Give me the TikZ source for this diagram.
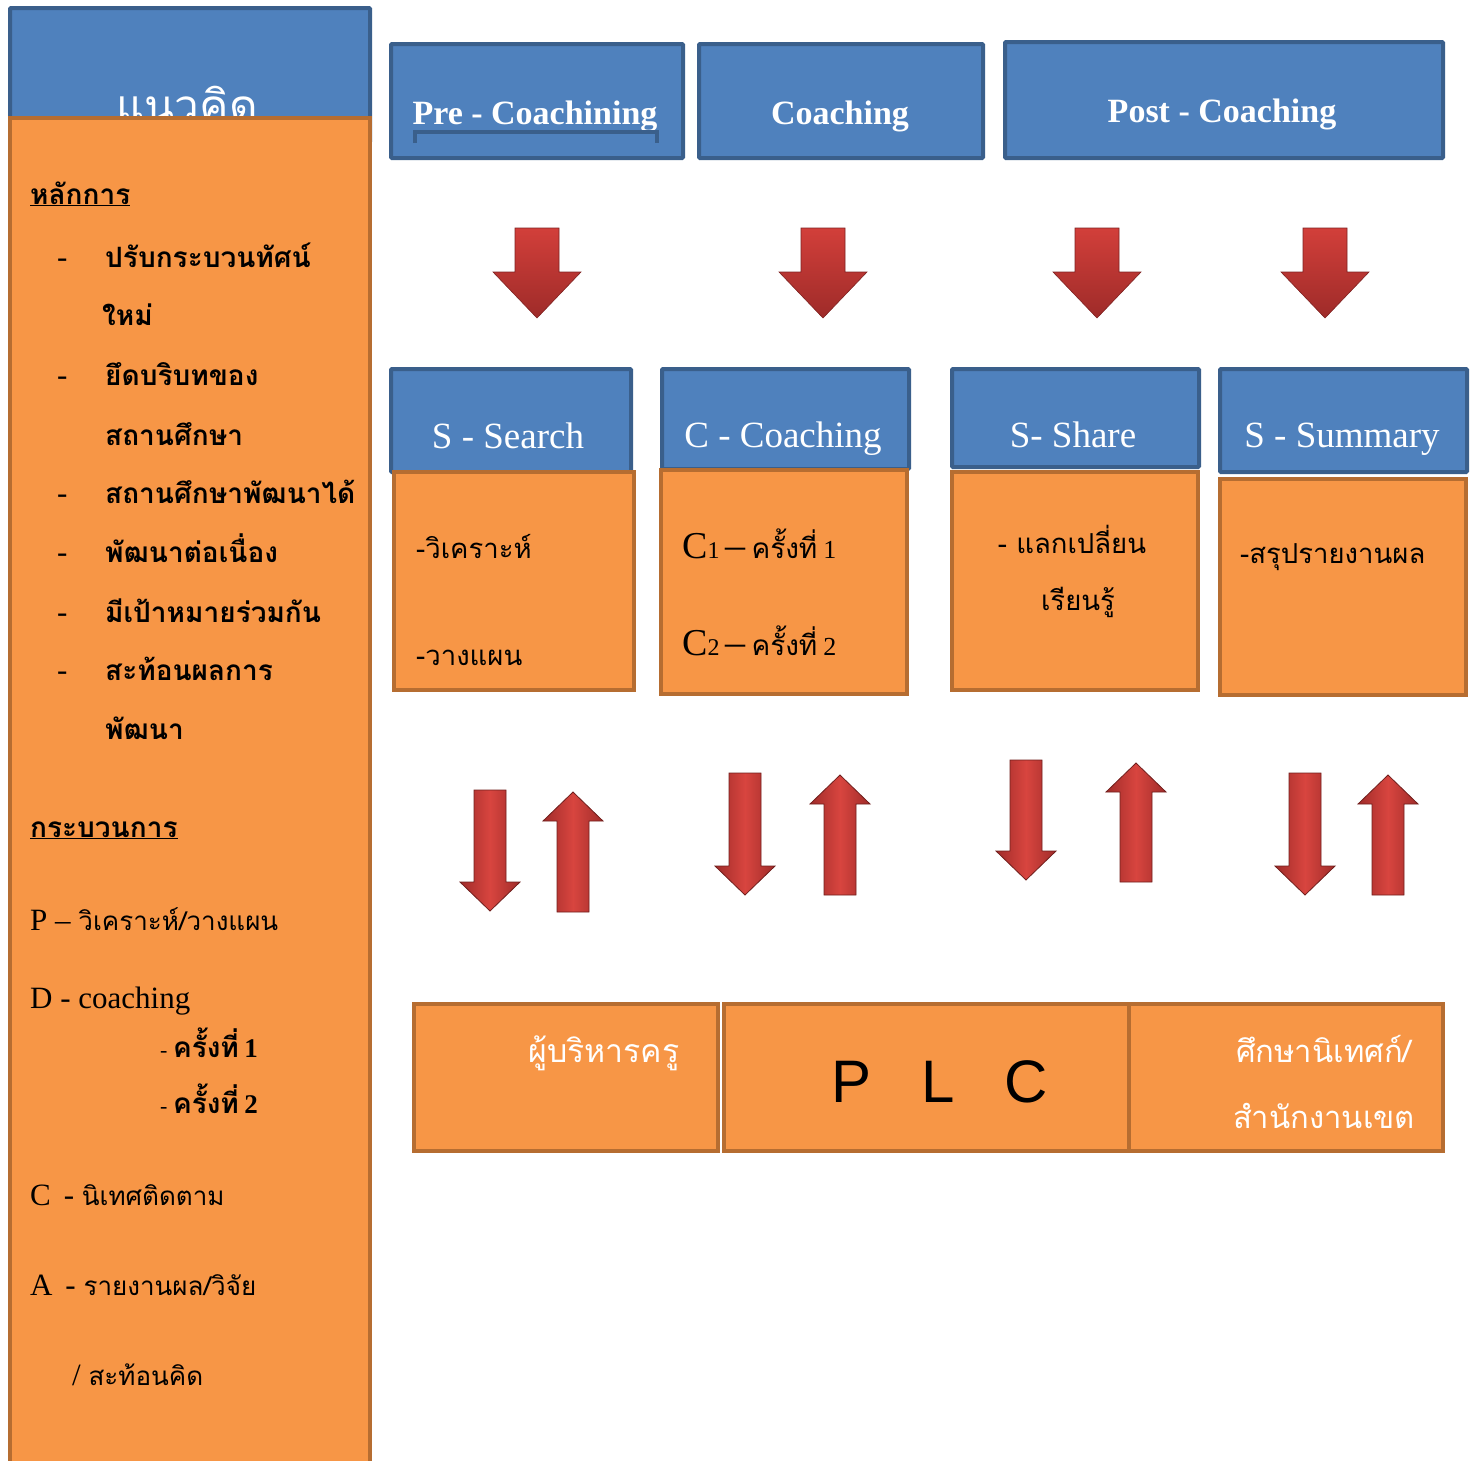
\documentclass[tikz,border=0pt]{standalone}
\usepackage{fontspec}
\setmainfont{Liberation Serif}
\newfontfamily\thaifont[Script=Thai]{Loma}
\newfontfamily\plcfont{Liberation Sans}
\definecolor{hdfill}{HTML}{4F81BD}
\definecolor{hdline}{HTML}{3A5F8B}
\definecolor{orfill}{HTML}{F79646}
\definecolor{orline}{HTML}{B66D31}
\definecolor{arrtop}{HTML}{D23F3A}
\definecolor{arrbot}{HTML}{9E2B29}
\definecolor{arrlight}{HTML}{D8453F}
\definecolor{arrdark}{HTML}{A02C2A}
\begin{document}
\begin{tikzpicture}[x=1pt,y=-1pt,
    hdbox/.style={draw=hdline,fill=hdfill,line width=4pt,rounded corners=1pt,inner sep=0pt,anchor=north west},
    orbox/.style={draw=orline,fill=orfill,line width=4pt,inner sep=0pt,anchor=north west},
    lt/.style={anchor=base west,inner sep=0pt},
    ct/.style={anchor=base,inner sep=0pt},
    thb/.style={font=\thaifont\bfseries\fontsize{28}{34}\selectfont},
    thr/.style={font=\thaifont\fontsize{27.5}{34}\selectfont},
    lat/.style={font=\fontsize{31}{36}\selectfont},
    toptxt/.style={ct,text=white,font=\bfseries\fontsize{34}{40}\selectfont},
    steptxt/.style={ct,text=white,font=\fontsize{37}{42}\selectfont},
    bigarrow/.style={top color=arrtop,bottom color=arrbot,draw=arrbot!80!black,line width=0.6pt},
    smallarrow/.style={left color=arrdark,right color=arrdark,middle color=arrlight,draw=arrdark!70!black,line width=0.8pt}]
  \useasboundingbox (0,0) rectangle (1472,1460);

  % left column
  \node[hdbox,minimum width=360pt,minimum height=134pt] (concepthd) at (8,6) {};
  \node[ct,text=white,font=\thaifont\fontsize{44}{50}\selectfont] (concept) at (187,121) {แนวคิด};
  \node[orbox,minimum width=360pt,minimum height=1360pt] (conceptbody) at (8,116) {};

  \draw
    (30,204) node[lt,thb] (principle) {\underline{หลักการ}}
    (57,267) node[lt,lat] (d1) {-}
    (105,267) node[lt,thb] (p1) {ปรับกระบวนทัศน์}
    (102,325) node[lt,thb] (p1b) {ใหม่}
    (57,385) node[lt,lat] (d2) {-}
    (105,385) node[lt,thb] (p2) {ยึดบริบทของ}
    (105,445) node[lt,thb] (p2b) {สถานศึกษา}
    (57,503) node[lt,lat] (d3) {-}
    (105,503) node[lt,thb] (p3) {สถานศึกษาพัฒนาได้}
    (57,562) node[lt,lat] (d4) {-}
    (105,562) node[lt,thb] (p4) {พัฒนาต่อเนื่อง}
    (57,622) node[lt,lat] (d5) {-}
    (105,622) node[lt,thb] (p5) {มีเป้าหมายร่วมกัน}
    (57,680) node[lt,lat] (d6) {-}
    (105,680) node[lt,thb] (p6) {สะท้อนผลการ}
    (105,739) node[lt,thb] (p6b) {พัฒนา};
  \draw
    (30,837) node[lt,thb] (process) {\underline{กระบวนการ}}
    (30,930) node[lt,lat] (plan) {P – {\thaifont\fontsize{26}{32}\selectfont วิเคราะห์/วางแผน}}
    (30,1008) node[lt,lat] (do) {D - coaching}
    (160,1057) node[lt,font=\fontsize{22}{26}\selectfont] (do1) {- {\thaifont\bfseries\fontsize{28}{34}\selectfont ครั้งที่} {\bfseries\fontsize{27}{30}\selectfont 1}}
    (160,1113) node[lt,font=\fontsize{22}{26}\selectfont] (do2) {- {\thaifont\bfseries\fontsize{28}{34}\selectfont ครั้งที่} {\bfseries\fontsize{27}{30}\selectfont 2}}
    (30,1205) node[lt,lat] (check) {C\, - {\thaifont\fontsize{26}{32}\selectfont นิเทศติดตาม}}
    (30,1295) node[lt,lat] (act) {A\, - {\thaifont\fontsize{26}{32}\selectfont รายงานผล/วิจัย}}
    (72,1385) node[lt,lat] (act2) {/ {\thaifont\fontsize{26}{32}\selectfont สะท้อนคิด}};

  % top phases
  \node[hdbox,minimum width=292pt,minimum height=114pt] (pre) at (389,42) {};
  \node[hdbox,minimum width=284pt,minimum height=114pt] (coach) at (697,42) {};
  \node[hdbox,minimum width=438pt,minimum height=116pt] (post) at (1003,40) {};
  \node[toptxt] (pretxt) at (535,124) {Pre - Coachining};
  \node[toptxt] (coachtxt) at (840,124) {Coaching};
  \node[toptxt] (posttxt) at (1222,122) {Post - Coaching};
  \draw[hdline,line width=4pt] (415,143) -- (415,132) -- (657,132) -- (657,143);

  \foreach \cx in {537,823,1097,1325}
    \shade[bigarrow] (\cx-22,228) -- (\cx+22,228) -- (\cx+22,272) -- (\cx+44,272)
      -- (\cx,318) -- (\cx-44,272) -- (\cx-22,272) -- cycle;

  % SCSS steps
  \node[hdbox,minimum width=240pt,minimum height=103pt] (search) at (389,367) {};
  \node[hdbox,minimum width=247pt,minimum height=100pt] (coaching) at (660,367) {};
  \node[hdbox,minimum width=247pt,minimum height=98pt] (share) at (950,367) {};
  \node[hdbox,minimum width=247pt,minimum height=103pt] (summary) at (1218,367) {};
  \node[orbox,minimum width=240pt,minimum height=218pt] (searchbody) at (392,470) {};
  \node[orbox,minimum width=246pt,minimum height=224pt] (coachingbody) at (659,468) {};
  \node[orbox,minimum width=246pt,minimum height=218pt] (sharebody) at (950,470) {};
  \node[orbox,minimum width=246pt,minimum height=216pt] (summarybody) at (1218,477) {};
  \node[steptxt] (searchtxt) at (508,448) {S - Search};
  \node[steptxt] (coachingtxt) at (783,447) {C - Coaching};
  \node[steptxt] (sharetxt) at (1073,447) {S- Share};
  \node[steptxt] (summarytxt) at (1342,447) {S - Summary};

  \draw
    (416,558) node[lt,thr] (analyse) {-วิเคราะห์}
    (416,665) node[lt,thr] (plan2) {-วางแผน}
    (682,558) node[lt,font=\fontsize{38}{42}\selectfont] (c1) {C{\fontsize{24}{28}\selectfont 1 {\fontsize{40}{44}\selectfont –} {\thaifont\fontsize{28}{34}\selectfont ครั้งที่} {\fontsize{26}{30}\selectfont 1}}}
    (682,655) node[lt,font=\fontsize{38}{42}\selectfont] (c2) {C{\fontsize{24}{28}\selectfont 2 {\fontsize{40}{44}\selectfont –} {\thaifont\fontsize{28}{34}\selectfont ครั้งที่} {\fontsize{26}{30}\selectfont 2}}}
    (1072,553) node[ct,thr] (exchange) {- แลกเปลี่ยน}
    (1078,610) node[ct,thr] (learn) {เรียนรู้}
    (1240,563) node[lt,thr] (report) {-สรุปรายงานผล};

  \foreach \cx/\ty/\by in {490/790/911,745/773/895,1026/760/880,1305/773/895}
    \shade[smallarrow] (\cx-16,\ty) -- (\cx+16,\ty) -- (\cx+16,\by-29) -- (\cx+30,\by-29)
      -- (\cx,\by) -- (\cx-30,\by-29) -- (\cx-16,\by-29) -- cycle;
  \foreach \cx/\ty/\by in {573/792/912,840/775/895,1136/763/882,1388/775/895}
    \shade[smallarrow] (\cx,\ty) -- (\cx+30,\ty+29) -- (\cx+16,\ty+29) -- (\cx+16,\by)
      -- (\cx-16,\by) -- (\cx-16,\ty+29) -- (\cx-30,\ty+29) -- cycle;

  % PLC
  \node[orbox,minimum width=304pt,minimum height=147pt] (admin) at (412,1002) {};
  \node[orbox,minimum width=405pt,minimum height=147pt] (plc) at (722,1002) {};
  \node[orbox,minimum width=314pt,minimum height=147pt] (area) at (1127,1002) {};
  \node[ct,text=white,font=\thaifont\fontsize{32}{36}\selectfont] (admintxt) at (604,1062) {ผู้บริหารครู};
  \node[ct,font=\plcfont\fontsize{60}{66}\selectfont] (plctxt) at (940,1102) {P\hspace{50pt}L\hspace{50pt}C};
  \node[ct,text=white,font=\thaifont\fontsize{31}{36}\selectfont] (areatxt) at (1324,1062) {ศึกษานิเทศก์/};
  \node[ct,text=white,font=\thaifont\fontsize{31}{36}\selectfont] (areatxt2) at (1324,1128) {สำนักงานเขต};
\end{tikzpicture}
\end{document}
